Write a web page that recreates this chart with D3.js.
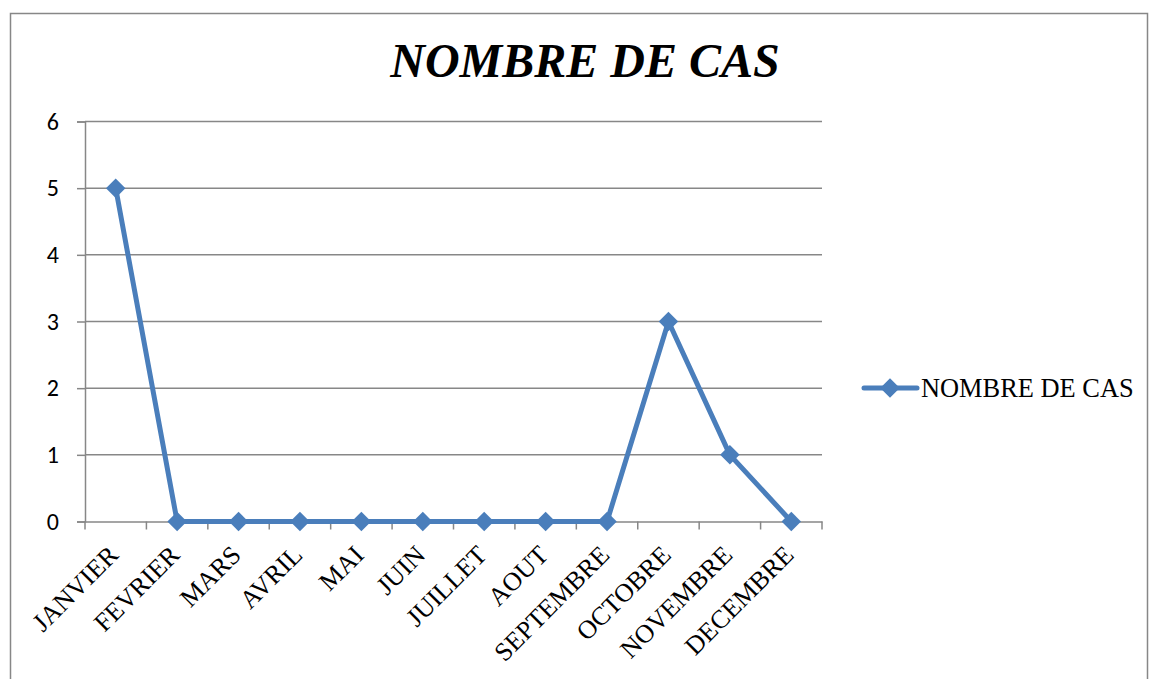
<!DOCTYPE html>
<html><head><meta charset="utf-8">
<script src="https://cdn.jsdelivr.net/npm/d3@7"></script>
<style>
body{margin:0;background:#fff}
.serif{font-family:"Liberation Serif","Times New Roman",serif}
.sans{font-family:Carlito,Calibri,"Open Sans",sans-serif}
</style>
</head><body>
<script>
const categories = ["JANVIER","FEVRIER","MARS","AVRIL","MAI","JUIN","JUILLET","AOUT","SEPTEMBRE","OCTOBRE","NOVEMBRE","DECEMBRE"];
const values = [5,0,0,0,0,0,0,0,0,3,1,0];
const yTicks = [0,1,2,3,4,5,6];
const seriesName = "NOMBRE DE CAS";
const titleText = "NOMBRE DE CAS";

const W = 1149, H = 679;
const svg = d3.select("body").append("svg").attr("width", W).attr("height", H);
const grey = "#878787", blue = "#4A7EBB";

svg.append("rect").attr("x", 10.5).attr("y", 13.5).attr("width", 1137).attr("height", 700)
  .attr("fill", "none").attr("stroke", grey).attr("stroke-width", 1.5);

const x = d3.scaleBand().domain(categories).range([85, 822]);
const y = d3.scaleLinear().domain([0, 6]).range([521.5, 121.5]);

// gridlines
svg.append("g").selectAll("line").data(yTicks.filter(d => d > 0)).join("line")
  .attr("x1", 85).attr("x2", 822).attr("y1", d => y(d)).attr("y2", d => y(d))
  .attr("stroke", grey).attr("stroke-width", 1.5);

// y axis
const yAxis = svg.append("g").attr("transform", "translate(85,0)")
  .call(d3.axisLeft(y).tickValues(yTicks).tickSize(8).tickPadding(18).tickFormat(d3.format("d")));
yAxis.attr("font-family", null).attr("font-size", null);
yAxis.select(".domain").attr("stroke", grey).attr("stroke-width", 1.5);
yAxis.selectAll(".tick line").attr("stroke", grey).attr("stroke-width", 1.5);
yAxis.selectAll("text").attr("class", "sans").style("font-size", "24px").attr("fill", "#000");

// x axis
const xAxis = svg.append("g").attr("transform", `translate(0,${y(0)})`)
  .call(d3.axisBottom(x).tickSize(0).tickFormat(""));
xAxis.select(".domain").attr("stroke", grey).attr("stroke-width", 1.5);
const bounds = categories.map(c => x(c)).concat([x(categories[categories.length-1]) + x.bandwidth()]);
svg.append("g").selectAll("line").data(bounds).join("line")
  .attr("x1", d => d).attr("x2", d => d).attr("y1", y(0)).attr("y2", y(0) + 8)
  .attr("stroke", grey).attr("stroke-width", 1.5);

// x labels
svg.append("g").selectAll("text").data(categories).join("text")
  .attr("class", "serif")
  .attr("transform", d => `translate(${x(d) + x.bandwidth()/2 + 4},${y(0) + 35}) rotate(-45)`)
  .attr("text-anchor", "end")
  .style("font-size", "26px").attr("fill", "#000")
  .text(d => d);

// line
const cx = d => x(d) + x.bandwidth()/2;
const pts = categories.map((c, i) => [cx(c), y(values[i])]);
svg.append("path").attr("d", d3.line()(pts)).attr("fill", "none")
  .attr("stroke", blue).attr("stroke-width", 5).attr("stroke-linejoin", "round");

const marker = d3.symbol().type(d3.symbolSquare).size(190)();
svg.append("g").selectAll("path").data(pts).join("path")
  .attr("d", marker)
  .attr("transform", d => `translate(${d[0]},${d[1]}) rotate(45)`)
  .attr("fill", blue);

// title
svg.append("text").attr("class", "serif").attr("x", 585).attr("y", 77).attr("text-anchor", "middle")
  .style("font-size", "48px").style("font-weight", "bold").style("font-style", "italic").attr("fill", "#000")
  .text(titleText);

// legend
const lg = svg.append("g");
lg.append("line").attr("x1", 864).attr("x2", 917).attr("y1", 388).attr("y2", 388)
  .attr("stroke", blue).attr("stroke-width", 5).attr("stroke-linecap", "round");
lg.append("path").attr("transform", "translate(890,388) rotate(45)")
  .attr("d", marker).attr("fill", blue);
lg.append("text").attr("class", "serif").attr("x", 921).attr("y", 397)
  .style("font-size", "26.4px").attr("fill", "#000").text(seriesName);
</script>
</body></html>
